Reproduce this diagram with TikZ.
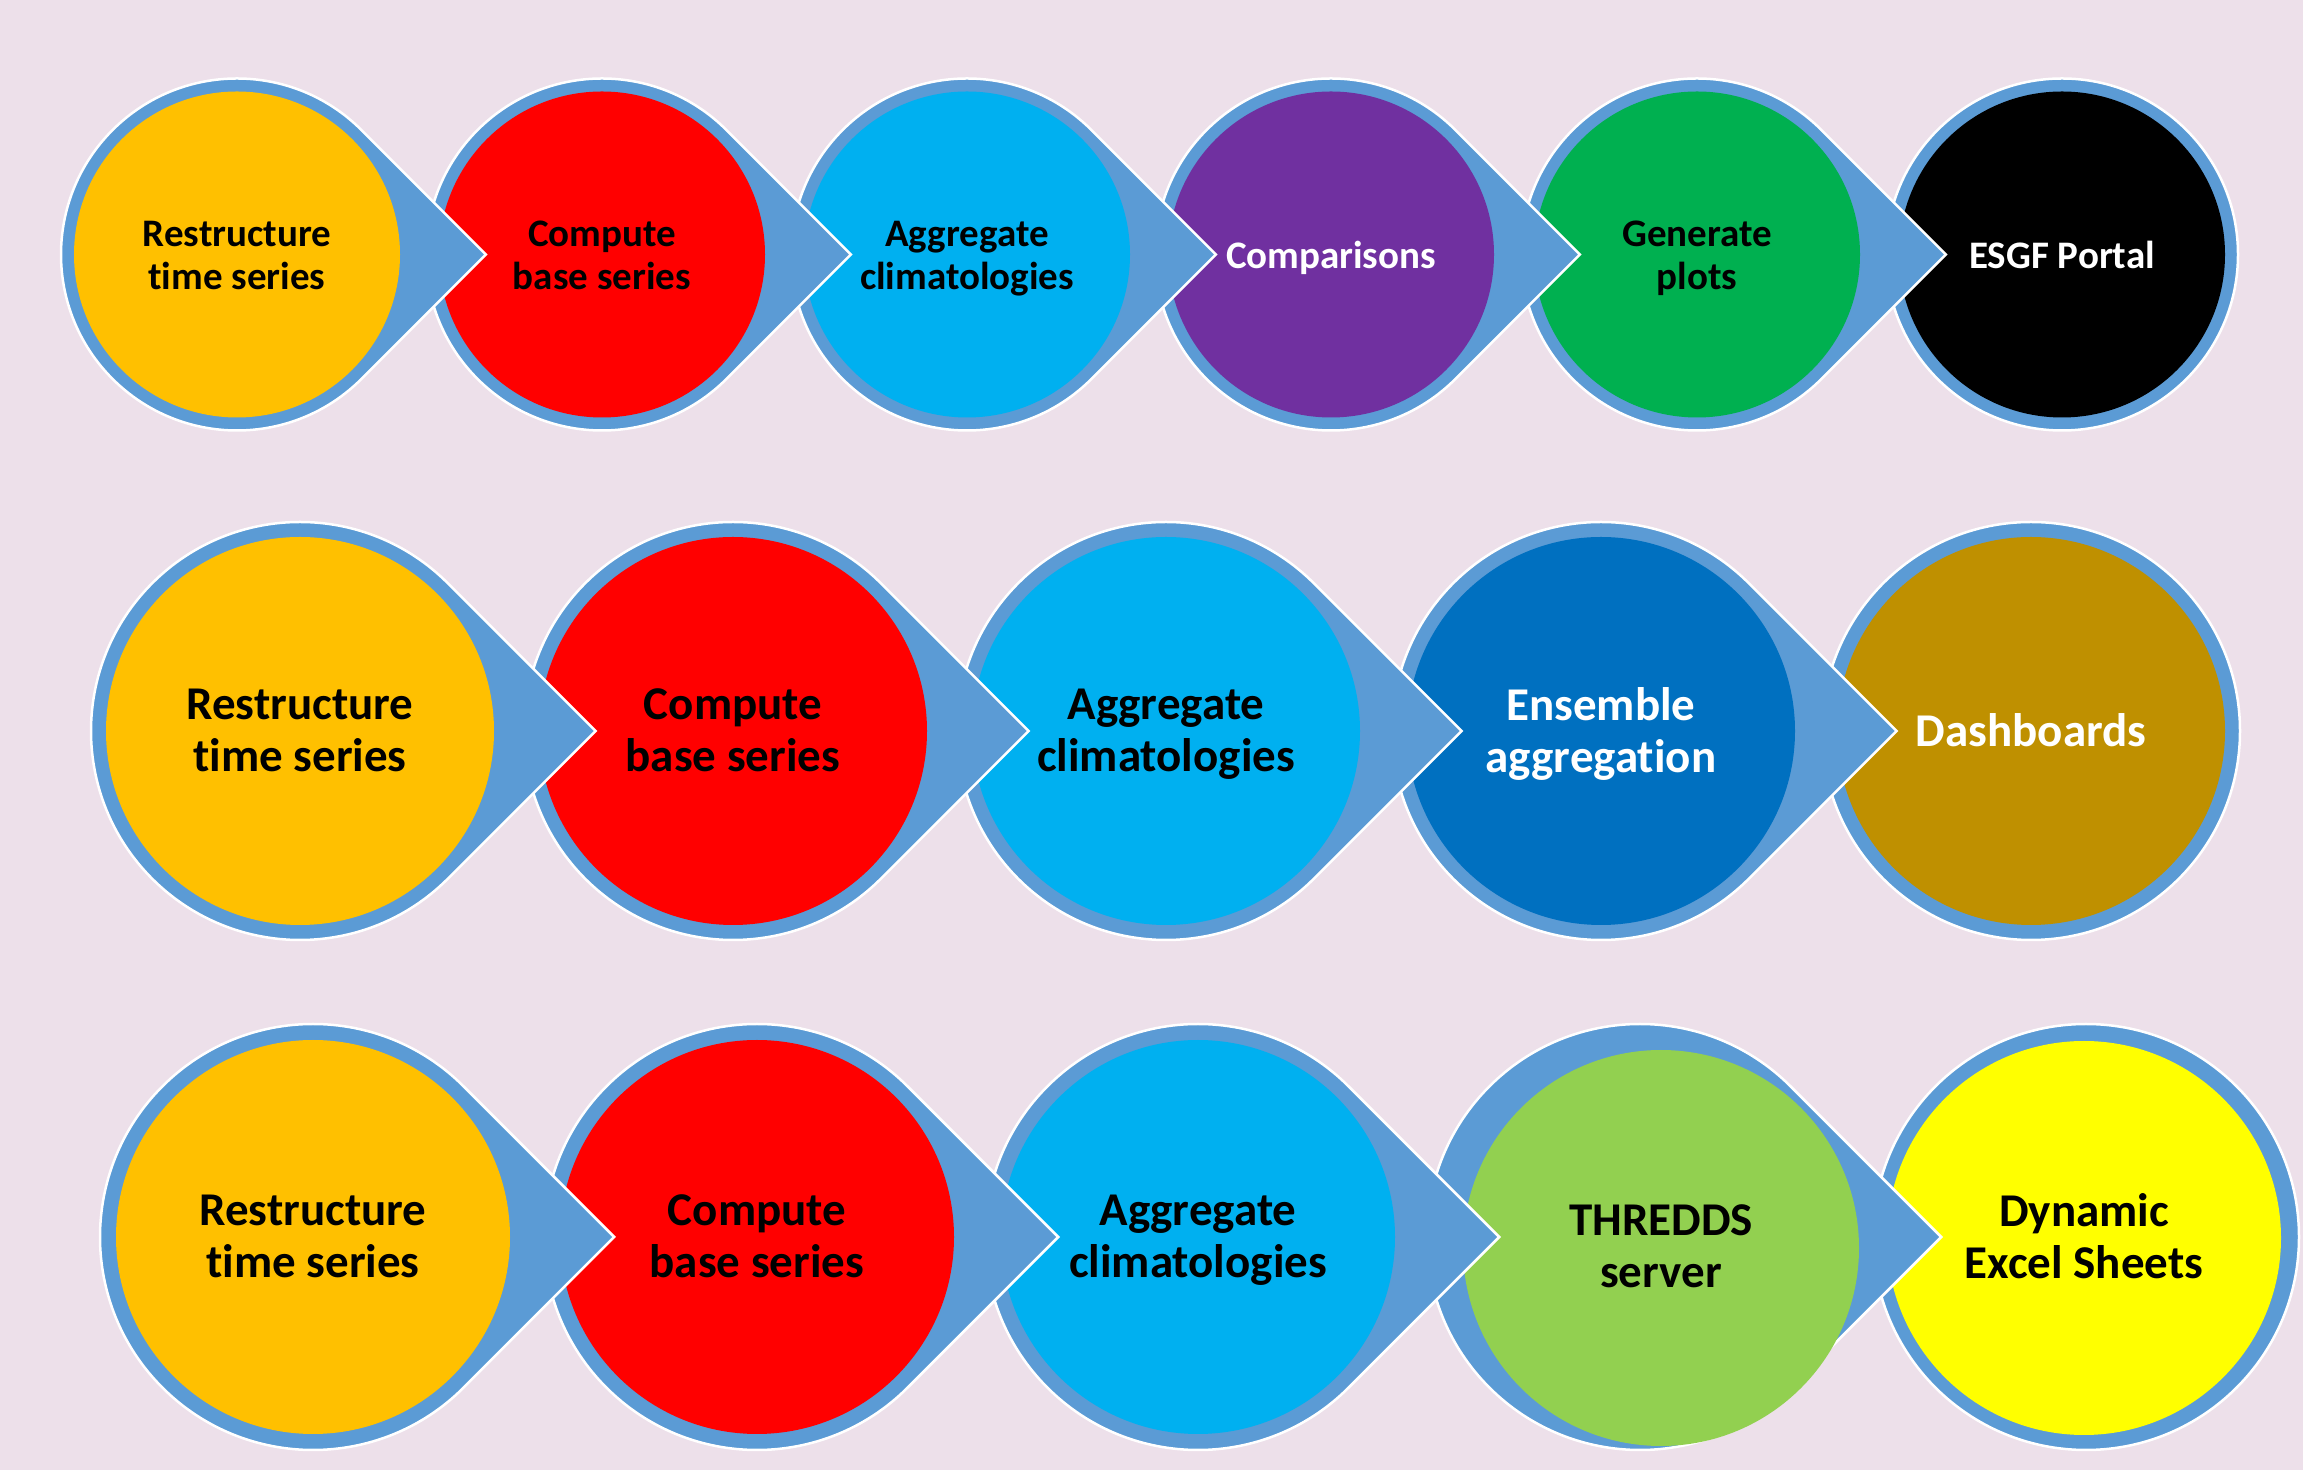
\documentclass[tikz,border=0pt]{standalone}
\usepackage{fontspec}
\setmainfont[Ligatures=NoCommon]{Carlito}
\usetikzlibrary{calc}

\definecolor{bg}{RGB}{237,224,234}
\definecolor{ring}{RGB}{91,155,213}
\definecolor{cOrange}{RGB}{255,192,0}
\definecolor{cRed}{RGB}{255,0,0}
\definecolor{cSky}{RGB}{0,176,240}
\definecolor{cPurple}{RGB}{112,48,160}
\definecolor{cGreen}{RGB}{0,176,80}
\definecolor{cBlue}{RGB}{0,112,192}
\definecolor{cGold}{RGB}{191,144,0}
\definecolor{cLime}{RGB}{146,208,80}
\definecolor{cYellow}{RGB}{255,255,0}

\tikzset{
  ringshape/.style={fill=ring, draw=white, line width=2.5pt},
  smalllabel/.style={font=\bfseries\fontsize{39}{42.6}\selectfont, align=center, inner sep=0pt, yshift=-4pt},
  biglabel/.style={font=\bfseries\fontsize{47}{52}\selectfont, align=center, inner sep=0pt, yshift=-3pt},
}

% blue drop: circle of radius #3 at (#1,#2) with a 90-degree point to the right
\newcommand\droplet[3]{%
  \path[ringshape] ($(#1,#2)+({1.41421*#3},0)$) -- ($(#1,#2)+(45:#3)$)
    arc[start angle=45, end angle=315, radius=#3] -- cycle;}
% plain blue ring behind the last stage of a row
\newcommand\lastring[3]{\path[ringshape] (#1,#2) circle[radius=#3];}
% every line gets the same height and depth, so all labels sit alike
\newcommand\lineprop{\vphantom{Agp}}
\newcommand\oneline[1]{\lineprop#1}
\newcommand\twolines[2]{\lineprop#1\\\lineprop#2}

\begin{document}
\begin{tikzpicture}[x=1pt,y=1pt]
\fill[bg] (0,0) rectangle (2303,1470);
\useasboundingbox (0,0) rectangle (2303,1470);

% ---------- first row ----------
\lastring{2062}{1215.5}{176}
\fill[black] (2062,1215.5) circle[radius=163];
\node[smalllabel, text=white] (esgf) at (2062,1215.5) {\oneline{ESGF Portal}};

\droplet{1697}{1215.5}{176}
\fill[cGreen] (1697,1215.5) circle[radius=163];
\node[smalllabel] (plots) at (1697,1215.5) {\twolines{Generate}{plots}};

\droplet{1331}{1215.5}{176}
\fill[cPurple] (1331,1215.5) circle[radius=163];
\node[smalllabel, text=white] (comp) at (1331,1215.5) {\oneline{Comparisons}};

\droplet{967}{1215.5}{176}
\fill[cSky] (967,1215.5) circle[radius=163];
\node[smalllabel] (aggA) at (967,1215.5) {\twolines{Aggregate}{climatologies}};

\droplet{602}{1215.5}{176}
\fill[cRed] (602,1215.5) circle[radius=163];
\node[smalllabel] (baseA) at (602,1215.5) {\twolines{Compute}{base series}};

\droplet{237}{1215.5}{176}
\fill[cOrange] (237,1215.5) circle[radius=163];
\node[smalllabel] (restA) at (237,1215.5) {\twolines{Restructure}{time series}};

% ---------- second row ----------
\lastring{2031}{739}{209}
\fill[cGold] (2031,739) circle[radius=194];
\node[biglabel, text=white] (dash) at (2031,739) {\oneline{Dashboards}};

\droplet{1601}{739}{209}
\fill[cBlue] (1601,739) circle[radius=194];
\node[biglabel, text=white] (ens) at (1601,739) {\twolines{Ensemble}{aggregation}};

\droplet{1166}{739}{209}
\fill[cSky] (1166,739) circle[radius=194];
\node[biglabel] (aggB) at (1166,739) {\twolines{Aggregate}{climatologies}};

\droplet{733}{739}{209}
\fill[cRed] (733,739) circle[radius=194];
\node[biglabel] (baseB) at (733,739) {\twolines{Compute}{base series}};

\droplet{300}{739}{209}
\fill[cOrange] (300,739) circle[radius=194];
\node[biglabel] (restB) at (300,739) {\twolines{Restructure}{time series}};

% ---------- third row ----------
\lastring{2086}{233}{213}
\fill[cYellow] (2084,232) circle[radius=197];
\node[biglabel] (excel) at (2084,233) {\twolines{Dynamic}{Excel Sheets}};

\droplet{1640}{233}{213}
\fill[cLime] (1661,222) circle[radius=198];
\node[biglabel] (thredds) at (1661,223) {\twolines{THREDDS}{server}};

\droplet{1198}{233}{213}
\fill[cSky] (1198,233) circle[radius=197];
\node[biglabel] (aggC) at (1198,233) {\twolines{Aggregate}{climatologies}};

\droplet{757}{233}{213}
\fill[cRed] (757,233) circle[radius=197];
\node[biglabel] (baseC) at (757,233) {\twolines{Compute}{base series}};

\droplet{313}{233}{213}
\fill[cOrange] (313,233) circle[radius=197];
\node[biglabel] (restC) at (313,233) {\twolines{Restructure}{time series}};
\end{tikzpicture}
\end{document}
